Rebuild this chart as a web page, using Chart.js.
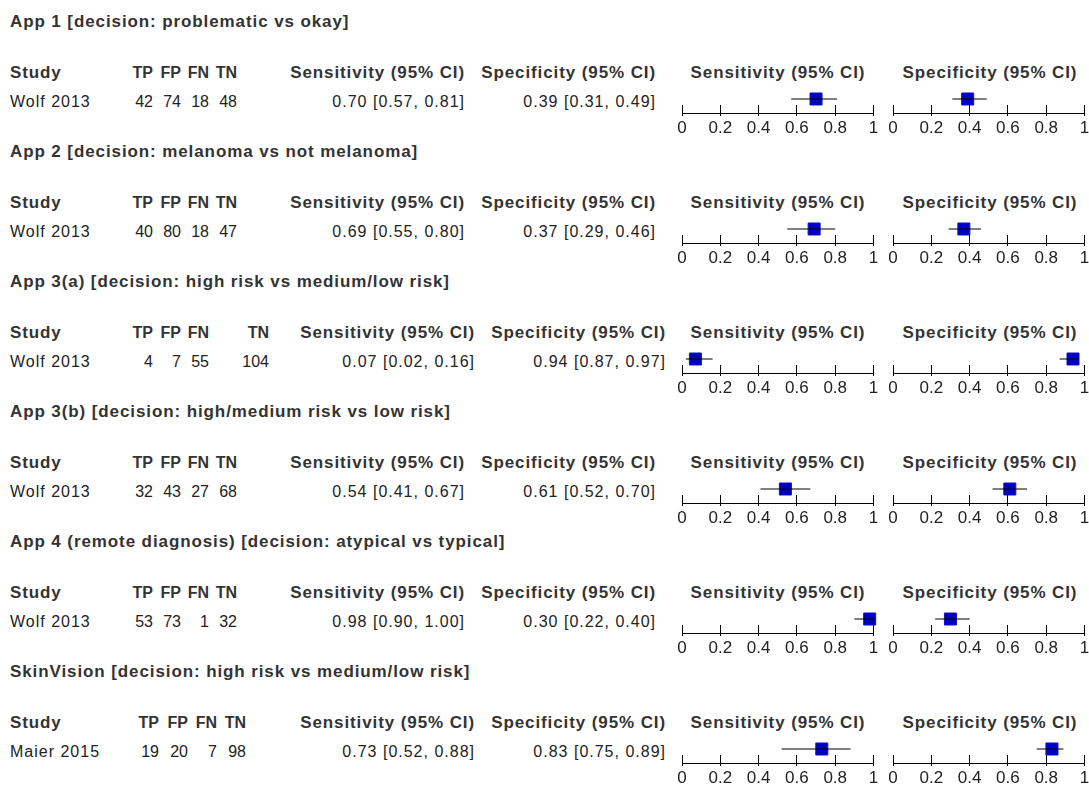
<!DOCTYPE html>
<html>
<head>
<meta charset="utf-8">
<script src="https://cdn.jsdelivr.net/npm/chart.js@4.4.1/dist/chart.umd.min.js"></script>
<style>
  html, body { margin: 0; padding: 0; background: #fff; width: 1089px; height: 787px; overflow: hidden; }
  body { position: relative; font-family: "Liberation Sans", Arial, sans-serif; font-size: 16px; color: #222; }
  .t { position: absolute; white-space: nowrap; line-height: 20px; letter-spacing: 1px; }
  .b { font-weight: bold; font-size: 17px; color: #333; letter-spacing: 0.9px; }
  .n { letter-spacing: 0; }
  .bn { font-weight: bold; font-size: 16px; color: #333; letter-spacing: 0; }
  canvas { position: absolute; }
</style>
</head>
<body>
<script>
// Forest plot: sensitivitet / spesifisitet per app (Wolf 2013, Maier 2015)
const titles = [
  "App 1 [decision: problematic vs okay]",
  "App 2 [decision: melanoma vs not melanoma]",
  "App 3(a) [decision: high risk vs medium/low risk]",
  "App 3(b) [decision: high/medium risk vs low risk]",
  "App 4 (remote diagnosis) [decision: atypical vs typical]",
  "SkinVision [decision: high risk vs medium/low risk]",
];
const studies = ["Wolf 2013", "Wolf 2013", "Wolf 2013", "Wolf 2013", "Wolf 2013", "Maier 2015"];
const tp = [42, 40, 4, 32, 53, 19];
const fp = [74, 80, 7, 43, 73, 20];
const fn = [18, 18, 55, 27, 1, 7];
const tn = [48, 47, 104, 68, 32, 98];
const sens = [0.70, 0.69, 0.07, 0.54, 0.98, 0.73];
const sensLo = [0.57, 0.55, 0.02, 0.41, 0.90, 0.52];
const sensHi = [0.81, 0.80, 0.16, 0.67, 1.00, 0.88];
const spec = [0.39, 0.37, 0.94, 0.61, 0.30, 0.83];
const specLo = [0.31, 0.29, 0.87, 0.52, 0.22, 0.75];
const specHi = [0.49, 0.46, 0.97, 0.70, 0.40, 0.89];
const tickValues = [0, 0.2, 0.4, 0.6, 0.8, 1];
const headers = ["Study", "TP", "FP", "FN", "TN", "Sensitivity (95% CI)", "Specificity (95% CI)"];

// ---- Layout (høyrekant per kolonne, per seksjon) ----
const W = 1089, SEC_H = 130;
const colStd = [153, 181, 209, 237, 465, 656];
const colRight = [colStd, colStd, [153, 181, 209, 269, 475, 666], colStd, colStd, [159, 188, 217, 246, 475, 666]];
const FONT = '"Liberation Sans", Arial, sans-serif';
const MARK_Y = 1.75; // markør over aksen (aksehøyde = 8 px => 14 px over)

function text(str, x, yc, cls, align) {
  const d = document.createElement("div");
  d.className = "t " + (cls || "");
  d.textContent = str;
  d.style.top = (yc - 10) + "px";
  if (align === "right") d.style.right = (W - x) + "px";
  else if (align === "center") { d.style.left = (x - 150) + "px"; d.style.width = "300px"; d.style.textAlign = "center"; }
  else d.style.left = x + "px";
  document.body.appendChild(d);
}
const ci = (v, lo, hi) => `${v.toFixed(2)} [${lo.toFixed(2)}, ${hi.toFixed(2)}]`;

function forest(left, top, est, lo, hi) {
  const c = document.createElement("canvas");
  c.width = 213; c.height = 60;
  c.style.left = left + "px"; c.style.top = top + "px";
  c.style.width = "213px"; c.style.height = "60px";
  document.body.appendChild(c);
  new Chart(c, {
    type: "scatter",
    data: { datasets: [
      { data: [{ x: lo, y: MARK_Y }, { x: hi, y: MARK_Y }], showLine: true, borderColor: "#000", borderWidth: 1, pointRadius: 0, clip: false },
      { data: [{ x: est, y: MARK_Y }], pointStyle: "rect", pointRadius: 8.5, backgroundColor: "#0000c0", borderColor: "#1010d0", borderWidth: 1, clip: false },
    ] },
    options: {
      responsive: false, animation: false, devicePixelRatio: 1, events: [],
      layout: { padding: { left: 12, right: 8, top: 27, bottom: 0 } },
      plugins: { legend: { display: false }, tooltip: { enabled: false } },
      scales: {
        x: {
          type: "linear", min: 0, max: 1,
          afterBuildTicks: (s) => { s.ticks = tickValues.map((v) => ({ value: v })); },
          afterFit: (s) => { s.height = 25; },
          ticks: { color: "#222", font: { family: FONT, size: 17 }, padding: 2, maxRotation: 0, autoSkip: false, callback: (v) => String(v) },
          grid: { display: true, drawOnChartArea: true, drawTicks: true, tickLength: 3, color: "#000", lineWidth: 1 },
          border: { display: true, color: "#000", width: 1 },
        },
        y: { type: "linear", display: false, min: 0, max: 1 },
      },
    },
  });
}

titles.forEach((t, i) => {
  const o = i * SEC_H, cr = colRight[i];
  text(t, 10, 22 + o, "b");
  text(headers[0], 10, 73 + o, "b");
  headers.slice(1).forEach((h, j) => text(h, cr[j], 73 + o, j < 4 ? "bn" : "b", "right"));
  text("Sensitivity (95% CI)", 778, 73 + o, "b", "center");
  text("Specificity (95% CI)", 990, 73 + o, "b", "center");
  text(studies[i], 10, 102 + o);
  [tp[i], fp[i], fn[i], tn[i], ci(sens[i], sensLo[i], sensHi[i]), ci(spec[i], specLo[i], specHi[i])]
    .forEach((v, j) => text(String(v), cr[j], 102 + o, j < 4 ? "n" : "", "right"));
  forest(670, 78 + o, sens[i], sensLo[i], sensHi[i]);
  forest(881, 78 + o, spec[i], specLo[i], specHi[i]);
});
</script>
</body>
</html>
